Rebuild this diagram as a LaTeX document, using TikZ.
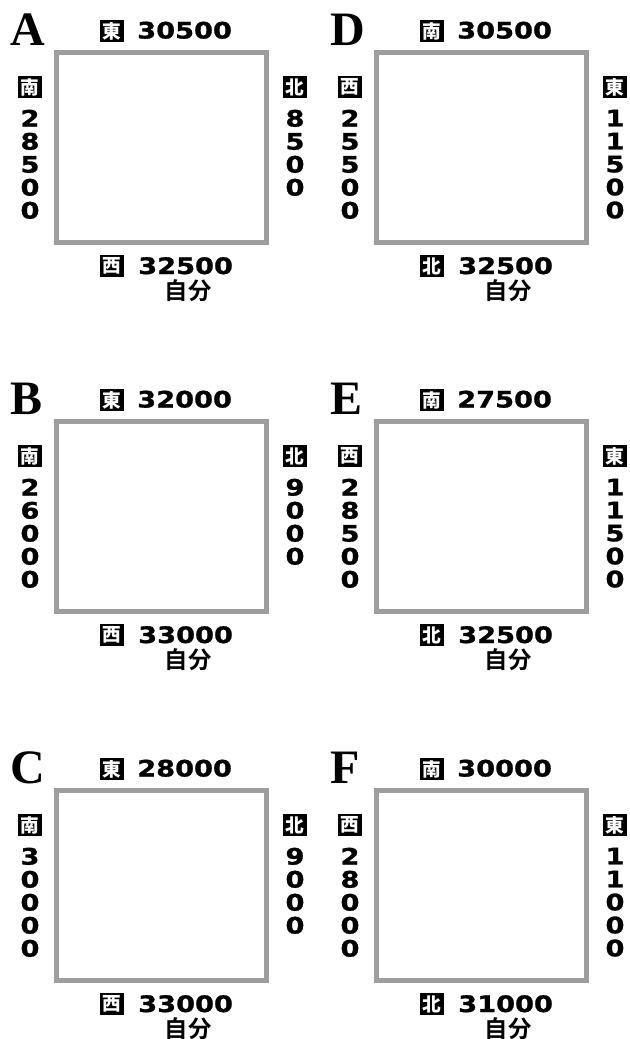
\documentclass[tikz,border=0pt]{standalone}
\usepackage{fontspec}
\newfontfamily\numfont{DejaVu Sans Bold}[FakeStretch=1.2,FakeBold=1.2]
\newfontfamily\cjkfont{Noto Sans CJK JP Bold}
\newfontfamily\cjkblack{Noto Sans CJK JP Black}
\newfontfamily\letfont{Liberation Serif Bold}
\definecolor{framegray}{RGB}{158,158,158}
\begin{document}
\begin{tikzpicture}[x=0.75pt,y=-0.75pt,
  frame/.style={draw=framegray,line width=3.75pt,inner sep=0pt,minimum width=157.5pt,minimum height=142.5pt},
  dirbox/.style={fill=black,text=white,inner sep=0pt,minimum width=18pt,minimum height=16pt,font=\cjkblack\fontsize{14pt}{14pt}\selectfont},
  num/.style={inner sep=0pt,font=\numfont\fontsize{17pt}{17.25pt}\selectfont},
  vnum/.style={num,align=center,anchor=north},
  selflabel/.style={inner sep=0pt,font=\cjkfont\fontsize{17.5pt}{17.5pt}\selectfont},
  letter/.style={inner sep=0pt,anchor=base west,font=\letfont\fontsize{36pt}{36pt}\selectfont}]
\useasboundingbox (0,0) rectangle (629,1039);
\foreach \L/\ox/\oy/\tk/\tn/\lk/\ln/\rk/\rn/\bk/\bn in {
 A/0/0/東/30500/南/2\\8\\5\\0\\0/北/8\\5\\0\\0/西/32500,
 B/0/369/東/32000/南/2\\6\\0\\0\\0/北/9\\0\\0\\0/西/33000,
 C/0/738/東/28000/南/3\\0\\0\\0\\0/北/9\\0\\0\\0/西/33000,
 D/320/0/南/30500/西/2\\5\\5\\0\\0/東/1\\1\\5\\0\\0/北/32500,
 E/320/369/南/27500/西/2\\8\\5\\0\\0/東/1\\1\\5\\0\\0/北/32500,
 F/320/738/南/30000/西/2\\8\\0\\0\\0/東/1\\1\\0\\0\\0/北/31000}
{
 \begin{scope}[shift={(\ox,\oy)}]
  \node[letter] (\L-letter) at (10,45) {\L};
  \node[frame] (\L-sq) at (161,147) {};
  \node[dirbox] (\L-tk) at (112,31) {\tk};
  \node[num,anchor=base west] (\L-tn) at (137,38.5) {\tn};
  \node[dirbox] (\L-lk) at (30,87) {\lk};
  \node[vnum] (\L-ln) at (30,109.5) {\ln};
  \node[dirbox] (\L-rk) at (295,87) {\rk};
  \node[vnum] (\L-rn) at (295,109.5) {\rn};
  \node[dirbox] (\L-bk) at (112,266) {\bk};
  \node[num,anchor=base west] (\L-bn) at (138,274) {\bn};
  \node[selflabel] (\L-self) at (188,291) {自分};
 \end{scope}
}
\end{tikzpicture}
\end{document}
